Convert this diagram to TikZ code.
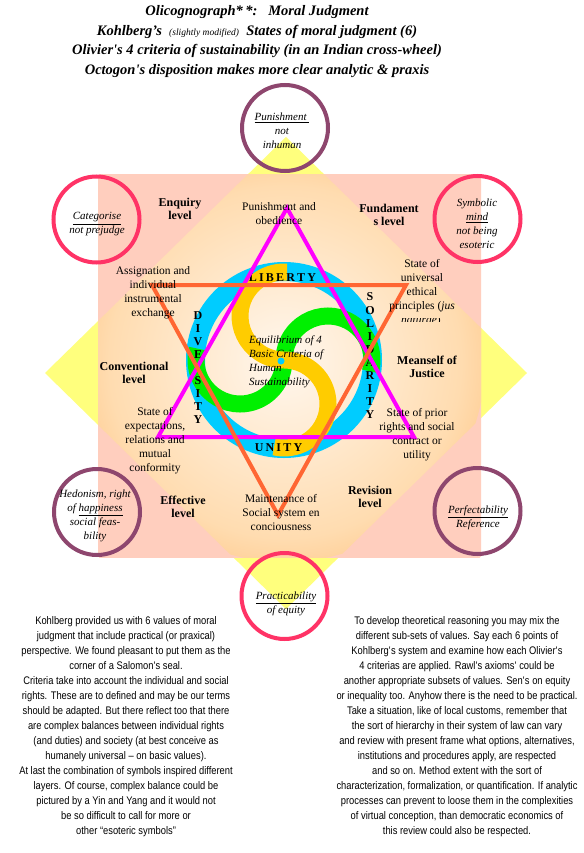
\documentclass[tikz,border=0pt]{standalone}
\usepackage{fontspec}
\setmainfont{Liberation Serif}
\newfontfamily\narrowsans[FakeStretch=0.85]{Liberation Sans}
\definecolor{pinkc}{RGB}{255,51,102}
\definecolor{purpc}{RGB}{142,70,110}
\definecolor{ringc}{RGB}{0,204,255}
\definecolor{swy}{RGB}{255,204,0}
\definecolor{swg}{RGB}{0,240,0}
\definecolor{magc}{RGB}{255,0,255}
\definecolor{orc}{RGB}{255,102,51}
\definecolor{yel}{RGB}{255,255,125}
\definecolor{salm}{RGB}{255,170,146}
\definecolor{salmlt}{RGB}{255,206,190}
\definecolor{orng}{RGB}{255,168,76}
\definecolor{peach}{RGB}{255,220,176}
\definecolor{cream}{RGB}{255,247,238}
\pgfdeclareradialshading{sqsh}{\pgfpoint{0bp}{0bp}}{color(0bp)=(salmlt); color(30bp)=(salmlt); color(50bp)=(salm)}
\pgfdeclareradialshading{dmsh}{\pgfpoint{0bp}{0bp}}{color(0bp)=(cream); color(22bp)=(peach); color(40bp)=(orng); color(50bp)=(orng)}
\newcommand{\lsp}{\hspace{2.2pt}}
\begin{document}
\begin{tikzpicture}[x=1pt,y=-1pt,
  ttl/.style={font=\fontsize{14.5}{19.5}\selectfont\bfseries\itshape, align=center, inner sep=0pt},
  lvl/.style={font=\fontsize{12}{13}\selectfont\bfseries, align=center, inner sep=0pt},
  txt/.style={font=\fontsize{11.5}{14}\selectfont, align=center, inner sep=0pt},
  crt/.style={font=\fontsize{11}{14}\selectfont\itshape, align=center, inner sep=0pt},
  rl/.style={font=\fontsize{12}{12}\selectfont\bfseries, inner sep=0pt},
  para/.style={font=\narrowsans\fontsize{11}{15}\selectfont, align=center, inner sep=0pt},
  ringnode/.style={circle, minimum size=86pt, inner sep=0pt, line width=4pt},
  pinkring/.style={ringnode, draw=pinkc},
  purpring/.style={ringnode, draw=purpc},
  starline/.style={line width=4pt, line join=miter},
  swirl/.style={line width=17pt},
]
\fill[white] (0,0) rectangle (583,853);
\useasboundingbox (0,0) rectangle (583,853);

% yellow diamond
\fill[yel] (286,137) -- (527,373) -- (286,609) -- (45,373) -- cycle;
% square with orange diamond inside
\begin{scope}
  \clip (98,175) rectangle (481,557);
  \shade[shading=sqsh] (289.5,366) circle (270);
  \clip (286,137) -- (527,373) -- (286,609) -- (45,373) -- cycle;
  \shade[shading=dmsh] (285,362) circle (200);
\end{scope}

% outer circles
\node[purpring] (ctop) at (285,128) {};
\node[pinkring] (clt) at (96.5,219.5) {};
\node[pinkring] (crt) at (477.5,219) {};
\node[purpring] (clb) at (97,512) {};
\node[purpring] (crb) at (477.5,511) {};
\node[pinkring] (cbot) at (284.5,596) {};

% blue ring
\draw[ringc, line width=19pt] (284,360) circle (88.5);

% swirl
\draw[swg, swirl] (328,360) ++(15:44) arc[start angle=15, end angle=-180, radius=44];
\draw[swg, swirl] (284,360) arc[start angle=0, end angle=195, radius=44];
\draw[swy, swirl] (284,316) ++(-86:44) arc[start angle=-86, end angle=-270, radius=44];
\draw[swy, swirl] (284,360) arc[start angle=-90, end angle=103, radius=44];
\fill[ringc] (281,361) circle (3.5);

% ring letters
\node[rl] (lib) at (282.5,278) {L\lsp I\lsp B\lsp E\lsp R\lsp T\lsp Y};
\node[rl] (uni) at (278.5,448) {U\lsp N\lsp I\lsp T\lsp Y};
\foreach \l/\yy [count=\k] in {D/316,I/329,V/342,E/355,S/381,I/394,T/407,Y/420}
  \node[rl] (div\k) at (198,\yy) {\l};
\foreach \l/\yy [count=\k] in {S/297,O/311,L/324,I/337,D/350,A/363,R/376,I/389,T/402,Y/415}
  \node[rl] (sol\k) at (370,\yy) {\l};

% Salomon's seal
\coordinate (m1) at (287,208);
\coordinate (m2) at (158,437);
\coordinate (m3) at (414,437);
\coordinate (o1) at (152,285);
\coordinate (o2) at (406,285);
\coordinate (o3) at (278,515);
\draw[magc, starline] (m1) -- (m2) -- (m3) -- cycle;
\draw[orc, starline] (o1) -- (o2) -- (o3) -- cycle;

% title
\node[ttl] (title) at (257,41.5) {Olicognograph*\,*:\ \ \ Moral Judgment\\
Kohlberg’s\ \ {\fontsize{9.5}{10}\selectfont\mdseries (slightly modified)}\ \ States of moral judgment (6)\\
Olivier\textquotesingle s 4 criteria of sustainability (in an Indian cross-wheel)\\
Octogon\textquotesingle s disposition makes more clear analytic \& praxis};

% circle texts
\node[crt] (tpun) at (282,131) {\underline{Punishment\ }\\not\\inhuman};
\node[crt] (tcat) at (97,224.5) {\underline{Categorise}\\not prejudge};
\node[crt] (tsym) at (477,224) {Symbolic\\\underline{mind}\\not being\\esoteric};
\node[crt] (thed) at (95,515.5) {Hedonism, right\\of \underline{happiness}\\social feas-\\bility};
\node[crt] (tper) at (478,518) {\underline{Perfectability}\\Reference};
\node[crt] (tpra) at (286,604) {\underline{Practicability}\\of equity};

% level labels
\node[lvl] (enq) at (180,209) {Enquiry\\level};
\node[lvl] (fun) at (389,215) {Fundament\\s level};
\node[lvl] (con) at (134,373) {Conventional\\level};
\node[lvl] (mea) at (427,367) {Meanself of\\Justice};
\node[lvl] (eff) at (183,507) {Effective\\level};
\node[lvl] (rev) at (370,497) {Revision\\level};

% state texts
\node[txt] (s1) at (279,213.5) {Punishment and\\obedience};
\node[txt] (s2) at (153,293) {Assignation and\\individual\\instrumental\\exchange};
\node[txt] (s3) at (422,286) {State of\\universal\\ethical\\principles (\textit{jus}};
\begin{scope}
  \clip (380,318) rectangle (470,321);
  \node[txt, anchor=base] (s3b) at (421,323.5) {\textit{naturae})};
\end{scope}
\node[txt] (s4) at (417,435) {State of prior\\rights and social\\contract or\\utility};
\node[txt] (s5) at (155,441) {State of\\expectations,\\relations and\\mutual\\conformity};
\node[txt] (s6) at (281,513) {Maintenance of\\Social system en\\conciousness};

% centre text
\node[crt, align=left, anchor=west] (eq) at (249,362) {Equilibrium of 4\\Basic Criteria of\\Human\\Sustainability};

% paragraphs
\node[para] (pl) at (126,727) {Kohlberg provided us with 6 values of moral\\
judgment that include practical (or praxical)\\
perspective. We found pleasant to put them as the\\
corner of a Salomon\textquotesingle s seal.\\
Criteria take into account the individual and social\\
rights. These are to defined and may be our terms\\
should be adapted. But there reflect too that there\\
are complex balances between individual rights\\
(and duties) and society (at best conceive as\\
humanely universal – on basic values).\\
At last the combination of symbols inspired different\\
layers. Of course, complex balance could be\\
pictured by a Yin and Yang and it would not\\
be so difficult to call for more or\\
other “esoteric symbols”};
\node[para] (pr) at (457,726.5) {To develop theoretical reasoning you may mix the\\
different sub-sets of values. Say each 6 points of\\
Kohlberg\textquotesingle s system and examine how each Olivier\textquotesingle s\\
4 criterias are applied. Rawl\textquotesingle s axioms\textquotesingle\ could be\\
another appropriate subsets of values. Sen\textquotesingle s on equity\\
or inequality too. Anyhow there is the need to be practical.\\
Take a situation, like of local customs, remember that\\
the sort of hierarchy in their system of law can vary\\
and review with present frame what options, alternatives,\\
institutions and procedures apply, are respected\\
and so on. Method extent with the sort of\\
characterization, formalization, or quantification. If analytic\\
processes can prevent to loose them in the complexities\\
of virtual conception, than democratic economics of\\
this review could also be respected.};
\end{tikzpicture}
\end{document}
